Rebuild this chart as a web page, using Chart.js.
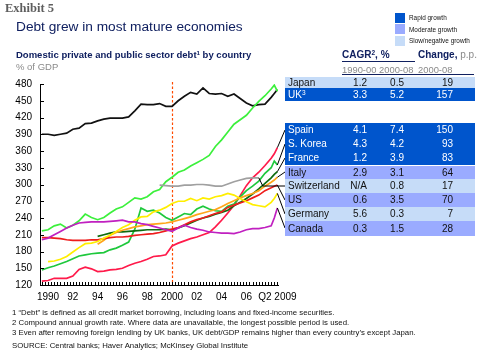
<!DOCTYPE html>
<html><head><meta charset="utf-8">
<script src="https://cdn.jsdelivr.net/npm/chart.js@4"></script>
<style>
html,body{margin:0;padding:0;background:#fff;}
#wrap{position:relative;width:496px;height:355px;overflow:hidden;font-family:"Liberation Sans",Arial,sans-serif;}
#c{position:absolute;left:0;top:0;}
.t{position:absolute;white-space:nowrap;}
sup{font-size:65%;vertical-align:0;position:relative;top:-0.45em;}
</style></head><body>
<div id="wrap">
<canvas id="c" width="496" height="355"></canvas>
</div>
<script>
// ---------- data ----------
const years = [1990,1990.5,1991,1991.5,1992,1992.5,1993,1993.5,1994,1994.5,1995,1995.5,1996,1996.5,1997,1997.5,1998,1998.5,1999,1999.5,2000,2000.5,2001,2001.5,2002,2002.5,2003,2003.5,2004,2004.5,2005,2005.5,2006,2006.5,2007,2007.5,2008,2008.5,2008.75,2009];
const japan = [390,390,388,390,392,399,401,409,410,414,417,419,419,419,421,432,444,443,443,445,440,440,450,458,465,462,473,463,462,463,458,462,454,446,441,443,444,456,463,470];
const uk = [217,219,226,229,222,227,235,247,241,237,241,249,256,260,268,276,274,278,287,291,305,313,322,326,333,339,345,352,368,380,394,408,416,424,437,449,459,471,478,467];
const spain = [127,128,132,132,132,136,148,152,149,144,145,147,148,150,155,159,162,166,171,172,174,190,195,199,203,206,210,214,224,236,249,263,280,298,312,322,334,347,355,366];
const korea = [147,151,154,158,162,167,172,174,176,177,178,183,186,191,197,220,258,252,254,249,241,236,242,248,246,256,261,256,253,252,261,265,278,289,297,306,320,330,342,335];
const france = [null,null,null,null,null,null,null,null,null,207,210,213,215,215,216,217,218,219,219,219,220,219,222,226,231,236,240,243,247,250,254,262,268,275,283,292,302,312,318,323];
const italy = [null,null,null,null,null,null,null,null,null,193,200,209,214,218,221,224,226,228,229,230,231,233,236,239,242,246,249,252,255,260,266,271,276,280,284,289,297,304,308,313];
const switzerland = [null,null,null,null,null,null,null,null,null,null,null,null,null,null,null,null,null,null,null,299,298,297,297,299,299,300,300,299,297,297,301,305,308,311,312,312,null,null,null,null];
const us = [205,205,204,203,201,200,200,200,201,201,203,205,206,206,207,209,210,211,212,214,217,220,223,228,233,237,240,244,248,251,259,263,267,271,276,281,289,294,297,299];
const germany = [null,162,163,166,171,179,187,194,195,198,204,209,216,223,228,236,242,243,251,254,259,266,270,270,275,271,276,274,278,280,284,281,275,269,264,262,260,268,275,284];
const canada = [201,204,210,216,222,227,231,232,233,233,233,234,235,236,233,233,230,228,225,222,219,216,222,227,223,220,218,215,214,213,213,212,215,219,221,221,223,226,240,258];

const yTicks = [120,150,180,210,240,270,300,330,360,390,420,450,480];
const xTickYears = [1990.5,1992.5,1994.5,1996.5,1998.5,2000.5,2002.5,2004.5,2006.5,2009];
const xTickLabels = ['1990','92','94','96','98','2000','02','04','06','Q2 2009'];
const markerYear = 2000.5;

const tableNames = ['Japan','UK<sup>3</sup>','Spain','S. Korea','France','Italy','Switzerland','US','Germany','Canada'];
const cagr9000 = ['1.2','3.3','4.1','4.3','1.2','2.9','N/A','0.6','5.6','0.3'];
const cagr0008 = ['0.5','5.2','7.4','4.2','3.9','3.1','0.8','3.5','0.3','1.5'];
const change0008 = ['19','157','150','93','83','64','17','70','7','28'];
const growthClass = ['slow','rapid','rapid','rapid','rapid','moderate','slow','moderate','slow','moderate'];
const legendLabels = ['Rapid growth','Moderate growth','Slow/negative growth'];

// ---------- styles / layout ----------
const classColor = {rapid:'#0055cc', moderate:'#9aabff', slow:'#c6dcf8'};
const navy = '#102060';
const wrap = document.getElementById('wrap');
function txt(html, left, baseline, size, style){
  const d = document.createElement('div');
  d.className='t';
  d.innerHTML = html;
  d.style.left = left+'px';
  d.style.top = (baseline - 0.8465*size)+'px';
  d.style.fontSize = size+'px';
  d.style.lineHeight = size+'px';
  if (style) Object.assign(d.style, style);
  wrap.appendChild(d);
  return d;
}
function box(l,t,w,h,color){
  const d=document.createElement('div');
  Object.assign(d.style,{position:'absolute',left:l+'px',top:t+'px',width:w+'px',height:h+'px',background:color});
  wrap.appendChild(d); return d;
}

txt('Exhibit 5',5,13,12.5,{fontFamily:'"Liberation Serif",serif',fontWeight:'bold',color:'#5e5e5e'});
txt('Debt grew in most mature economies',16,32,13.7,{color:navy});
txt('Domestic private and public sector debt<sup>1</sup> by country',16,58,9.5,{color:navy,fontWeight:'bold'});
txt('% of GDP',16,70,9.5,{color:'#8a8a8a'});

// legend
['rapid','moderate','slow'].forEach((k,i)=>{
  box(395,13+i*11.3,10,10,classColor[k]);
  txt(legendLabels[i],409,21+i*11.3,8,{transform:'scaleX(0.8)',transformOrigin:'0 0',color:'#111'});
});

// table header
txt('CAGR<sup>2</sup>, %',342,58,10,{fontWeight:'bold',color:navy});
txt('<b>Change,</b> <span style="color:#8a8a8a">p.p.</span>',418,58,10,{color:navy});
box(342,61,73,1,navy);
txt('1990-00',342,73,9.4,{color:'#8a8a8a'});
txt('2000-08',379,73,9.4,{color:'#8a8a8a'});
txt('2000-08',418,73,9.4,{color:'#8a8a8a'});
box(342,74,132,1,navy);

const rowTops = [77,88,123,137,151,166,179,193,207,221];
const rowH = [11,13,14,14,14,13,14,14,14,15];
tableNames.forEach((n,i)=>{
  const top=rowTops[i], h=rowH[i];
  box(285,top,190,h,classColor[growthClass[i]]);
  const col = growthClass[i]==='rapid' ? '#fff' : '#111';
  const base = top + h/2 + 3.5;
  txt(n,288,base,10,{color:col});
  [[cagr9000,367],[cagr0008,404],[change0008,453]].forEach(([arr,x])=>{
    txt(arr[i],x,base,10,{color:col,transform:'translateX(-100%)'});
  });
});
box(285,165,190,1,'#fff');

// footnotes
txt('1 “Debt” is defined as all credit market borrowing, including loans and fixed-income securities.',12,316,7.8,{color:'#111'});
txt('2 Compound annual growth rate. Where data are unavailable, the longest possible period is used.',12,325.5,7.8,{color:'#111'});
txt('3 Even after removing foreign lending by UK banks, UK debt/GDP remains higher than every country’s except Japan.',12,335.5,7.8,{color:'#111'});
txt('SOURCE: Central banks; Haver Analytics; McKinsey Global Institute',12,349,7.8,{color:'#111'});

// ---------- chart ----------
const series = [
  {label:'Switzerland', data:switzerland, color:'#a0a0a0', leader:186},
  {label:'Canada', data:canada, color:'#c020c0', leader:228},
  {label:'Germany', data:germany, color:'#ffee00', leader:214},
  {label:'US', data:us, color:'#ee1c1c', leader:200},
  {label:'Italy', data:italy, color:'#ffa51a', leader:172},
  {label:'France', data:france, color:'#0f6b0f', leader:158},
  {label:'S. Korea', data:korea, color:'#1ec83c', leader:144},
  {label:'Spain', data:spain, color:'#ff1a4a', leader:130},
  {label:'UK', data:uk, color:'#3cf03c', leader:null},
  {label:'Japan', data:japan, color:'#111111', leader:null}
];

const deco = {
  id:'deco',
  beforeDatasetsDraw(chart){
    const {ctx, chartArea:a, scales:{x}} = chart;
    const px = Math.round(x.getPixelForValue(markerYear))+0.5;
    ctx.save();
    ctx.strokeStyle='#ff4a00'; ctx.lineWidth=1.2; ctx.setLineDash([2.5,2]);
    ctx.beginPath(); ctx.moveTo(px,a.top-2); ctx.lineTo(px,a.bottom); ctx.stroke();
    ctx.restore();
  },
  afterDatasetsDraw(chart){
    const {ctx, chartArea:a, scales:{x,y}} = chart;
    ctx.save();
    ctx.strokeStyle='#000'; ctx.lineWidth=1;
    y.ticks.forEach(t=>{
      const py=Math.round(y.getPixelForValue(t.value))+0.5;
      ctx.beginPath(); ctx.moveTo(a.left,py); ctx.lineTo(a.left+4,py); ctx.stroke();
    });
    for(let q=years[0]; q<=years[years.length-1]+1e-6; q+=0.25){
      const px=Math.round(x.getPixelForValue(q))+0.5;
      ctx.beginPath(); ctx.moveTo(px,a.bottom); ctx.lineTo(px,a.bottom-3); ctx.stroke();
    }
    // leader lines to table
    series.forEach(s=>{
      if(s.leader==null) return;
      let i=s.data.length-1; while(i>=0 && s.data[i]==null) i--;
      const ex=x.getPixelForValue(years[i]), ey=y.getPixelForValue(s.data[i]);
      ctx.beginPath(); ctx.moveTo(ex,ey);
      if(s.label==='Switzerland'){ ctx.lineTo(ex+4,s.leader); ctx.lineTo(285,s.leader); }
      else ctx.lineTo(285,s.leader);
      ctx.stroke();
    });
    ctx.restore();
  }
};

Chart.defaults.font.family='"Liberation Sans", Arial, sans-serif';
new Chart(document.getElementById('c'),{
  type:'line',
  data:{datasets:series.map(s=>({
    label:s.label,
    data:years.map((yr,i)=>({x:yr,y:s.data[i]})),
    borderColor:s.color, backgroundColor:s.color,
    borderWidth:1.7, pointRadius:0, tension:0, spanGaps:false
  }))},
  options:{
    responsive:false, animation:false, devicePixelRatio:1,
    layout:{padding:{left:0,right:218,top:84,bottom:50}},
    plugins:{legend:{display:false},tooltip:{enabled:false}},
    scales:{
      x:{type:'linear',min:1989.85,max:2009.05,
        afterBuildTicks(s){s.ticks=xTickYears.map(v=>({value:v}));},
        afterFit(s){s.height=20;},
        grid:{display:false,drawTicks:false},
        border:{display:true,color:'#000',width:1},
        ticks:{autoSkip:false,maxRotation:0,padding:6,color:'#000',font:{size:10},
          callback:(v,i)=>xTickLabels[i]}
      },
      y:{min:120,max:480,
        afterBuildTicks(s){s.ticks=yTicks.map(v=>({value:v}));},
        afterFit(s){s.width=40;},
        grid:{display:false,drawTicks:false},
        border:{display:true,color:'#000',width:1},
        ticks:{padding:8,color:'#000',font:{size:10}}
      }
    }
  },
  plugins:[deco]
});
</script>
</body></html>
